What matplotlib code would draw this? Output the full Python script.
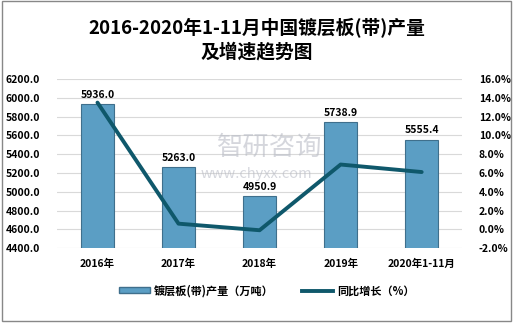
import matplotlib.pyplot as plt
import numpy as np
from matplotlib.patches import Rectangle
from matplotlib.lines import Line2D

plt.rcParams['font.family'] = ['Noto Sans CJK SC', 'DejaVu Sans']

# data
categories = ["2016年", "2017年", "2018年", "2019年", "2020年1-11月"]
output = [5936.0, 5263.0, 4950.9, 5738.9, 5555.4]
growth = [13.5, 0.6, -0.1, 6.9, 6.1]

bar_color = "#5b9ec4"
bar_edge = "#3f6f8c"
line_color = "#0f586b"

fig = plt.figure(figsize=(5.13, 3.23), dpi=100)
ax = fig.add_axes([0.111, 0.232, 0.79, 0.523])
ax2 = ax.twinx()

x = np.arange(len(categories))
ax.bar(x, output, width=0.41, color=bar_color, edgecolor=bar_edge, linewidth=0.8, zorder=2)
for xi, v in zip(x, output):
    ax.text(xi, v + 45, f"{v:.1f}", ha="center", va="bottom", fontsize=7.5,
            fontweight="bold", zorder=5)

ax.set_ylim(4400, 6200)
ax.set_yticks(np.arange(4400, 6201, 200))
ax.set_yticklabels([f"{v:.1f}" for v in np.arange(4400, 6201, 200)])
ax.set_xlim(-0.5, 4.5)
ax.set_xticks(x)
ax.set_xticklabels(categories)
ax.grid(axis="y", color="#d9d9d9", linewidth=0.8, zorder=0)
ax.set_axisbelow(True)

ax2.plot(x, growth, color=line_color, linewidth=2.8, solid_capstyle="round", zorder=4)
ax2.set_ylim(-2, 16)
ax2.set_yticks(np.arange(-2, 16.1, 2))
ax2.set_yticklabels([f"{v:.1f}%" for v in np.arange(-2, 16.1, 2)])

for a in (ax, ax2):
    for s in a.spines.values():
        s.set_visible(False)
    a.tick_params(length=0, labelsize=7.5)
    for lab in a.get_yticklabels() + a.get_xticklabels():
        lab.set_fontweight("bold")
ax.tick_params(axis="y", pad=12)
ax.tick_params(axis="x", pad=8)
ax2.tick_params(axis="y", pad=12)

# watermark
fig.text(0.525, 0.545, "智研咨询", fontsize=19, color="#b9bcc6", alpha=0.6,
         ha="center", va="center", zorder=10)
fig.text(0.50, 0.46, "www.chyxx.com", fontsize=10.5, color="#b9bcc6", alpha=0.6,
         ha="center", va="center", zorder=10)

fig.text(0.5, 0.913, "2016-2020年1-11月中国镀层板(带)产量", fontsize=13.5,
         ha="center", va="center", fontweight="bold")
fig.text(0.5, 0.839, "及增速趋势图", fontsize=13.5, ha="center", va="center",
         fontweight="bold")

handles = [Rectangle((0, 0), 1, 1, facecolor=bar_color, edgecolor=bar_edge),
           Line2D([0], [0], color=line_color, linewidth=2.8)]
fig.legend(handles, ["镀层板(带)产量（万吨）", "同比增长（%）"], loc="center",
           bbox_to_anchor=(0.52, 0.1), ncol=2, frameon=False,
           prop={"size": 8, "weight": "bold"}, handlelength=2.8, handleheight=0.5,
           columnspacing=2.5, handletextpad=0.4)

fig.patches.append(Rectangle((0.004, 0.006), 0.992, 0.99, transform=fig.transFigure,
                             fill=False, edgecolor="#888888", linewidth=1))

plt.savefig("out.png", dpi=100)
